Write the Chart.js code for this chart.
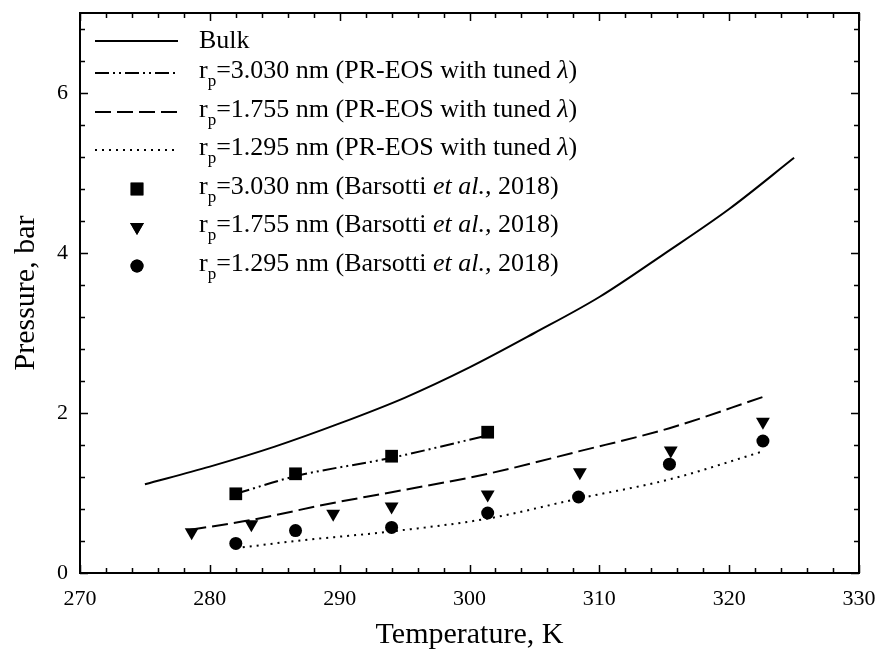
<!DOCTYPE html>
<html>
<head>
<meta charset="utf-8">
<script src="https://cdn.jsdelivr.net/npm/chart.js@4/dist/chart.umd.min.js"></script>
<style>
    html, body { margin: 0; padding: 0; background: #fff; }
    #chart { display: block; }
</style>
</head>
<body>
<canvas id="chart" width="878" height="662"></canvas>
<script>
// bulk saturation curve
const bulkT = [275, 280, 285, 290, 295, 300, 305, 310, 315, 320, 325];
const bulkP = [1.11, 1.33, 1.58, 1.87, 2.19, 2.57, 3.00, 3.45, 3.99, 4.55, 5.19];

// PR-EOS with tuned lambda
const pr3030T = [282.0, 286.6, 294.0, 301.4];
const pr3030P = [0.99, 1.21, 1.44, 1.72];
const pr1755T = [278.5, 283.1, 289.3, 294.0, 301.4, 308.4, 315.4, 322.6];
const pr1755P = [0.54, 0.66, 0.87, 1.01, 1.24, 1.52, 1.81, 2.20];
const pr1295T = [282.0, 286.6, 294.0, 301.4, 308.4, 315.4, 322.6];
const pr1295P = [0.31, 0.40, 0.52, 0.68, 0.93, 1.17, 1.52];

// Barsotti et al., 2018
const bar3030T = [282.0, 286.6, 294.0, 301.4];
const bar3030P = [0.99, 1.24, 1.46, 1.76];
const bar1755T = [278.6, 283.2, 289.5, 294.0, 301.4, 308.5, 315.5, 322.6];
const bar1755P = [0.51, 0.61, 0.74, 0.83, 0.98, 1.26, 1.53, 1.89];
const bar1295T = [282.0, 286.6, 294.0, 301.4, 308.4, 315.4, 322.6];
const bar1295P = [0.37, 0.53, 0.57, 0.75, 0.95, 1.36, 1.65];

const xMin = 270, xMax = 330;
const yMin = 0, yMax = 7;

const SERIF = '"Liberation Serif", "Times New Roman", serif';

function pts(xs, ys) {
    return xs.map((x, i) => ({ x: x, y: ys[i] }));
}

function lineSet(label, xs, ys, dash) {
    return {
        label: label,
        data: pts(xs, ys),
        showLine: true,
        borderColor: '#000',
        borderWidth: 2,
        borderDash: dash,
        pointRadius: 0,
        cubicInterpolationMode: 'monotone',
        fill: false,
    };
}

function markSet(label, xs, ys, style, radius, rotation) {
    return {
        label: label,
        data: pts(xs, ys),
        showLine: false,
        pointStyle: style,
        pointRadius: radius,
        pointRotation: rotation,
        backgroundColor: '#000',
        borderColor: '#000',
        borderWidth: 0,
    };
}

const datasets = [
    lineSet('Bulk', bulkT, bulkP, []),
    lineSet('rp=3.030 nm (PR-EOS with tuned λ)', pr3030T, pr3030P, [14, 4, 2, 4, 2, 4]),
    lineSet('rp=1.755 nm (PR-EOS with tuned λ)', pr1755T, pr1755P, [16, 6]),
    lineSet('rp=1.295 nm (PR-EOS with tuned λ)', pr1295T, pr1295P, [2, 5]),
    markSet('rp=3.030 nm (Barsotti et al., 2018)', bar3030T, bar3030P, 'rect', 9, 0),
    markSet('rp=1.755 nm (Barsotti et al., 2018)', bar1755T, bar1755P, 'triangle', 8, 180),
    markSet('rp=1.295 nm (Barsotti et al., 2018)', bar1295T, bar1295P, 'circle', 6.5, 0),
];

// legend text split into pieces: sub = subscript, it = italic
const legendParts = [
    [['Bulk', '']],
    [['r', ''], ['p', 'sub'], ['=3.030 nm (PR-EOS with tuned ', ''], ['λ', 'it'], [')', '']],
    [['r', ''], ['p', 'sub'], ['=1.755 nm (PR-EOS with tuned ', ''], ['λ', 'it'], [')', '']],
    [['r', ''], ['p', 'sub'], ['=1.295 nm (PR-EOS with tuned ', ''], ['λ', 'it'], [')', '']],
    [['r', ''], ['p', 'sub'], ['=3.030 nm (Barsotti ', ''], ['et al.,', 'it'], [' 2018)', '']],
    [['r', ''], ['p', 'sub'], ['=1.755 nm (Barsotti ', ''], ['et al.,', 'it'], [' 2018)', '']],
    [['r', ''], ['p', 'sub'], ['=1.295 nm (Barsotti ', ''], ['et al.,', 'it'], [' 2018)', '']],
];

const framePlugin = {
    id: 'frame',
    afterDraw(chart) {
        const { ctx, chartArea: a, scales } = chart;
        const sx = scales.x, sy = scales.y;
        ctx.save();
        ctx.strokeStyle = '#000';
        ctx.lineWidth = 2;
        ctx.strokeRect(a.left, a.top, a.right - a.left, a.bottom - a.top);

        ctx.lineWidth = 1.5;
        ctx.beginPath();
        for (let i = 0; i <= (xMax - xMin) / 2; i++) {
            const v = xMin + i * 2;
            const px = Math.round(sx.getPixelForValue(v)) + 0.5;
            const len = i % 5 === 0 ? 8 : 5;
            ctx.moveTo(px, a.bottom);
            ctx.lineTo(px, a.bottom - len);
            ctx.moveTo(px, a.top);
            ctx.lineTo(px, a.top + len);
        }
        for (let i = 0; i * 0.4 <= yMax; i++) {
            const v = i * 0.4;
            const py = Math.round(sy.getPixelForValue(v)) + 0.5;
            const len = i % 5 === 0 ? 8 : 5;
            ctx.moveTo(a.left, py);
            ctx.lineTo(a.left + len, py);
            ctx.moveTo(a.right, py);
            ctx.lineTo(a.right - len, py);
        }
        ctx.stroke();
        ctx.restore();
    }
};

const legendPlugin = {
    id: 'paperLegend',
    afterDraw(chart) {
        const { ctx } = chart;
        const rowY = [48, 78, 117, 155, 194, 232, 271];
        const sampleX0 = 95, sampleX1 = 178, markX = 137, textX = 199;
        ctx.save();
        ctx.fillStyle = '#000';
        ctx.strokeStyle = '#000';
        chart.data.datasets.forEach((ds, i) => {
            const by = rowY[i];
            const cy = i === 0 ? by - 7 : by - 5;
            if (ds.showLine) {
                ctx.save();
                ctx.lineWidth = ds.borderWidth;
                ctx.setLineDash(ds.borderDash);
                ctx.beginPath();
                ctx.moveTo(sampleX0, cy);
                ctx.lineTo(sampleX1, cy);
                ctx.stroke();
                ctx.restore();
            } else {
                Chart.helpers.drawPoint(ctx, {
                    pointStyle: ds.pointStyle,
                    radius: ds.pointRadius,
                    rotation: ds.pointRotation,
                    borderWidth: 0,
                }, markX, cy);
                ctx.fill();
            }
            let x = textX;
            ctx.textBaseline = 'alphabetic';
            ctx.textAlign = 'left';
            legendParts[i].forEach(([txt, kind]) => {
                let yy = by;
                if (kind === 'sub') {
                    ctx.font = '17px ' + SERIF;
                    yy = by + 8;
                } else if (kind === 'it') {
                    ctx.font = 'italic 26px ' + SERIF;
                } else {
                    ctx.font = '26px ' + SERIF;
                }
                ctx.fillText(txt, x, yy);
                x += ctx.measureText(txt).width;
            });
        });
        ctx.restore();
    }
};

new Chart(document.getElementById('chart'), {
    type: 'scatter',
    data: { datasets: datasets },
    options: {
        responsive: false,
        animation: false,
        layout: { padding: { top: 13, right: 19, left: 0, bottom: 0 } },
        plugins: {
            legend: { display: false },
            tooltip: { enabled: false },
        },
        scales: {
            x: {
                type: 'linear',
                min: xMin,
                max: xMax,
                grid: { display: false, drawTicks: false },
                border: { display: false },
                ticks: {
                    stepSize: 10,
                    padding: 13,
                    color: '#000',
                    maxRotation: 0,
                    font: { family: SERIF, size: 22 },
                },
                title: {
                    display: true,
                    text: 'Temperature, K',
                    color: '#000',
                    font: { family: SERIF, size: 30, lineHeight: 1.2 },
                    padding: { top: 0, bottom: 9 },
                },
                afterFit(scale) {
                    scale.height = 89;
                    scale.paddingLeft = 0;
                    scale.paddingRight = 0;
                },
            },
            y: {
                type: 'linear',
                min: yMin,
                max: yMax,
                grid: { display: false, drawTicks: false },
                border: { display: false },
                ticks: {
                    stepSize: 2,
                    includeBounds: false,
                    padding: 12,
                    color: '#000',
                    font: { family: SERIF, size: 22 },
                },
                title: {
                    display: true,
                    text: 'Pressure, bar',
                    color: '#000',
                    font: { family: SERIF, size: 30, lineHeight: 1.2 },
                    padding: { top: 8, bottom: 0 },
                },
                afterFit(scale) {
                    scale.width = 80;
                    scale.paddingTop = 0;
                    scale.paddingBottom = 0;
                },
            },
        },
    },
    plugins: [framePlugin, legendPlugin],
});
</script>
</body>
</html>
